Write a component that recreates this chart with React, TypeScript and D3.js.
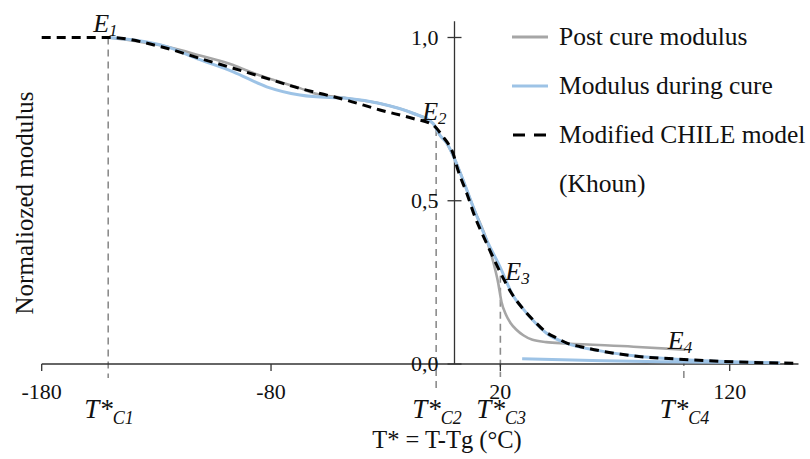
import React from "react";
import * as d3 from "d3";

// ---------- data ----------
const xTicks = [-180, -80, 20, 120];
const yTicks = [0, 0.5, 1.0];
const yTickLabels = ["0,0", "0,5", "1,0"];

// Modified CHILE model (Khoun)
const chileT = [-180, -151, -125.5, -111, -96.5, -81.9, -67.4, -61.7, -47, -32.5, -18.1, -9.4, -5, -2, -0.7, 1.5, 5.3, 8.9, 14, 20, 25, 30, 35, 40, 45, 49, 55, 63, 78, 100, 121, 149];
const chileE = [1, 1, 0.967, 0.936, 0.906, 0.875, 0.844, 0.834, 0.808, 0.778, 0.752, 0.732, 0.696, 0.666, 0.646, 0.594, 0.524, 0.451, 0.37, 0.28, 0.215, 0.168, 0.13, 0.097, 0.078, 0.064, 0.053, 0.041, 0.025, 0.014, 0.007, 0.002];

// Modulus during cure
const duringT = [-151, -125.5, -111, -96.5, -81.9, -67.4, -61.7, -47, -32.5, -18.1, -9.4, -6.3, -3.4, -0.7, 3.7, 8.1, 14, 19.8, 25.5, 30, 35, 40, 49, 63, 78, 100, 121, 142];
const duringE = [1.0, 0.972, 0.932, 0.895, 0.849, 0.824, 0.819, 0.814, 0.798, 0.768, 0.737, 0.7, 0.677, 0.64, 0.564, 0.482, 0.38, 0.298, 0.21, 0.168, 0.128, 0.095, 0.063, 0.041, 0.025, 0.013, 0.007, 0.004];
const duringTailT = [29.5, 60, 90, 141];
const duringTailE = [0.016, 0.011, 0.007, 0.004];

// Post cure modulus
const postT = [-151, -125.5, -111, -96.5, -89.2, -74.8, -67.4, -61.7, -47, -32.5, -18.1, -9.4, -6.3, -3.4, -0.7, 3.7, 8.1, 14, 17, 19, 20.5, 22.5, 24.5, 27, 30, 34, 40, 49, 78, 100.5];
const postE = [1.0, 0.972, 0.945, 0.916, 0.895, 0.861, 0.845, 0.83, 0.814, 0.798, 0.768, 0.737, 0.7, 0.677, 0.64, 0.564, 0.482, 0.38, 0.31, 0.25, 0.19, 0.15, 0.125, 0.105, 0.088, 0.074, 0.067, 0.063, 0.053, 0.044];

// critical points
const criticalIdx = ["1", "2", "3", "4"];
const criticalT = [-151, -8, 20, 100];
const criticalE = [1.0, 0.72, 0.27, 0.015];

const legendLabels = ["Post cure modulus", "Modulus during cure", "Modified CHILE model", "(Khoun)"];
const xTitle = "T* = T-Tg (°C)";
const yTitle = "Normaliozed modulus";

// ---------- layout ----------
const W = 810;
const H = 459;
const FONT = "Liberation Serif";
const GRAY = "#a6a6a6";
const BLUE = "#9dc3e6";
const GUIDE = "#8c8c8c";
const AXIS = "#333";

export default function App() {
  const x = d3.scaleLinear().domain([-180, 150]).range([41.7, 798.5]);
  const y = d3.scaleLinear().domain([0, 1]).range([364, 37.5]);
  const yTop = y(1.05);

  const line = d3
    .line<[number, number]>()
    .x((d) => x(d[0]))
    .y((d) => y(d[1]))
    .curve(d3.curveMonotoneX);

  const zip = (a: number[], b: number[]) => a.map((v, i) => [v, b[i]] as [number, number]);

  const guideBottom = [14, 25, 13, 14];
  const eOffsets = [
    [-15, -6],
    [-14, -9],
    [5, 4],
    [-16, -10],
  ];
  const legendY = [37, 86, 135, 184];

  return (
    <svg
      width={W}
      height={H}
      viewBox={`0 0 ${W} ${H}`}
      style={{ position: "fixed", left: 0, top: 0, background: "#fff" }}
    >
      <rect x={0} y={0} width={W} height={H} fill="#fff" />

      {/* critical guide lines */}
      {criticalT.map((t, i) => (
        <line
          key={"g" + i}
          x1={x(t)}
          x2={x(t)}
          y1={y(criticalE[i])}
          y2={y(0) + guideBottom[i]}
          stroke={GUIDE}
          strokeWidth={1.6}
          strokeDasharray="7,5"
        />
      ))}

      {/* axes */}
      <line x1={x(-180)} x2={x(150)} y1={y(0)} y2={y(0)} stroke={AXIS} strokeWidth={1.3} />
      {xTicks.map((t) => (
        <g key={"xt" + t}>
          <line x1={x(t)} x2={x(t)} y1={y(0)} y2={y(0) + 7} stroke={AXIS} strokeWidth={1.3} />
          <text x={x(t)} y={399} textAnchor="middle" fontSize={22} fill="#111" fontFamily={FONT}>
            {t}
          </text>
        </g>
      ))}
      <line x1={x(0)} x2={x(0)} y1={y(0)} y2={yTop} stroke={AXIS} strokeWidth={1.3} />
      {yTicks.map((v, i) => (
        <g key={"yt" + v}>
          <line x1={x(0) - 7} x2={x(0) + 7} y1={y(v)} y2={y(v)} stroke={AXIS} strokeWidth={1.3} />
          <text x={x(0) - 16} y={y(v) + 7} textAnchor="end" fontSize={22} fill="#111" fontFamily={FONT}>
            {yTickLabels[i]}
          </text>
        </g>
      ))}

      {/* curves */}
      <path d={line(zip(postT, postE)) || ""} fill="none" stroke={GRAY} strokeWidth={2.6} />
      <path d={line(zip(duringT, duringE)) || ""} fill="none" stroke={BLUE} strokeWidth={3} />
      <path d={line(zip(duringTailT, duringTailE)) || ""} fill="none" stroke={BLUE} strokeWidth={3} />
      <path
        d={line(zip(chileT, chileE)) || ""}
        fill="none"
        stroke="#000"
        strokeWidth={3}
        strokeDasharray="9,6"
      />

      {/* E labels */}
      {criticalT.map((t, i) => (
        <text
          key={"e" + i}
          x={x(t) + eOffsets[i][0]}
          y={y(criticalE[i]) + eOffsets[i][1]}
          fontSize={26}
          fontStyle="italic"
          fill="#111"
          fontFamily={FONT}
        >
          E<tspan fontSize={17} dy={4}>{criticalIdx[i]}</tspan>
        </text>
      ))}

      {/* T*C labels */}
      {criticalT.map((t, i) => (
        <text key={"tc" + i} x={x(t) - 24} y={418} fontSize={27} fontStyle="italic" fill="#111" fontFamily={FONT}>
          T*<tspan fontSize={18} dy={6}>{"C" + criticalIdx[i]}</tspan>
        </text>
      ))}

      {/* axis titles */}
      <text x={447} y={448} textAnchor="middle" fontSize={24.5} fill="#111" fontFamily={FONT}>
        {xTitle}
      </text>
      <text
        transform="translate(33,203) rotate(-90)"
        textAnchor="middle"
        fontSize={25}
        fill="#111"
        fontFamily={FONT}
      >
        {yTitle}
      </text>

      {/* legend */}
      <line x1={512} x2={548} y1={legendY[0]} y2={legendY[0]} stroke={GRAY} strokeWidth={3} />
      <line x1={512} x2={548} y1={legendY[1]} y2={legendY[1]} stroke={BLUE} strokeWidth={3} />
      <line
        x1={513}
        x2={548}
        y1={legendY[2]}
        y2={legendY[2]}
        stroke="#000"
        strokeWidth={3}
        strokeDasharray="12,9"
      />
      {legendLabels.map((s, i) => (
        <text key={"l" + i} x={559} y={legendY[i] + 8} fontSize={25.5} fill="#111" fontFamily={FONT}>
          {s}
        </text>
      ))}
    </svg>
  );
}
